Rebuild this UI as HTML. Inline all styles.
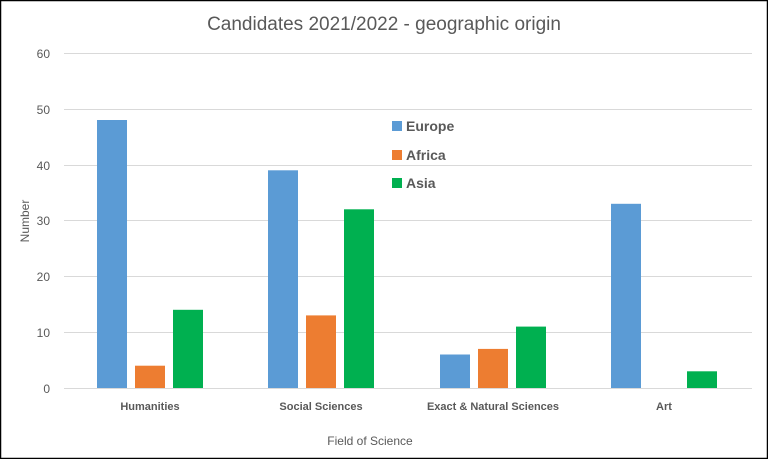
<!DOCTYPE html>
<html><head><style>body{margin:0}svg{display:block}</style></head><body>
<svg width="768" height="459" xmlns="http://www.w3.org/2000/svg" font-family="Liberation Sans, sans-serif">
<rect x="0" y="0" width="768" height="459" fill="#fff"/>
<rect x="0.5" y="0.5" width="767" height="458" fill="none" stroke="#000" stroke-width="1.5"/>
<text x="384" y="30" text-anchor="middle" font-size="19" fill="#595959">Candidates 2021/2022 - geographic origin</text>
<g stroke="#d9d9d9" stroke-width="1">
<line x1="64" x2="752" y1="53.5" y2="53.5"/><line x1="64" x2="752" y1="109.5" y2="109.5"/>
<line x1="64" x2="752" y1="165.5" y2="165.5"/><line x1="64" x2="752" y1="220.5" y2="220.5"/>
<line x1="64" x2="752" y1="276.5" y2="276.5"/><line x1="64" x2="752" y1="332.5" y2="332.5"/>
<line x1="64" x2="752" y1="388.5" y2="388.5"/>
</g>
<g font-size="12" fill="#595959" text-anchor="end">
<text x="50" y="58">60</text><text x="50" y="114">50</text><text x="50" y="170">40</text>
<text x="50" y="225">30</text><text x="50" y="281">20</text><text x="50" y="337">10</text><text x="50" y="393">0</text>
</g>
<text transform="translate(29,221) rotate(-90)" text-anchor="middle" font-size="12" fill="#595959">Number</text>
<g fill="#5b9bd5">
<rect x="97" y="120" width="30" height="268"/><rect x="268" y="170.3" width="30" height="217.7"/>
<rect x="440" y="354.5" width="30" height="33.5"/><rect x="611" y="203.8" width="30" height="184.2"/>
</g>
<g fill="#ed7d31">
<rect x="135" y="365.7" width="30" height="22.3"/><rect x="306" y="315.4" width="30" height="72.6"/>
<rect x="478" y="348.9" width="30" height="39.1"/>
</g>
<g fill="#00b050">
<rect x="173" y="309.8" width="30" height="78.2"/><rect x="344" y="209.3" width="30" height="178.7"/>
<rect x="516" y="326.6" width="30" height="61.4"/><rect x="687" y="371.3" width="30" height="16.7"/>
</g>
<g font-size="11" font-weight="bold" fill="#595959" text-anchor="middle">
<text x="150" y="410">Humanities</text><text x="321" y="410">Social Sciences</text>
<text x="493" y="410">Exact &amp; Natural Sciences</text><text x="664" y="410">Art</text>
</g>
<text x="370" y="445" text-anchor="middle" font-size="12" fill="#595959">Field of Science</text>
<g font-size="14" font-weight="bold" fill="#595959">
<rect x="392" y="121" width="10" height="10" fill="#5b9bd5"/><text x="406" y="131">Europe</text>
<rect x="392" y="150" width="10" height="10" fill="#ed7d31"/><text x="406" y="160">Africa</text>
<rect x="392" y="178" width="10" height="10" fill="#00b050"/><text x="406" y="188">Asia</text>
</g>
</svg>
</body></html>
